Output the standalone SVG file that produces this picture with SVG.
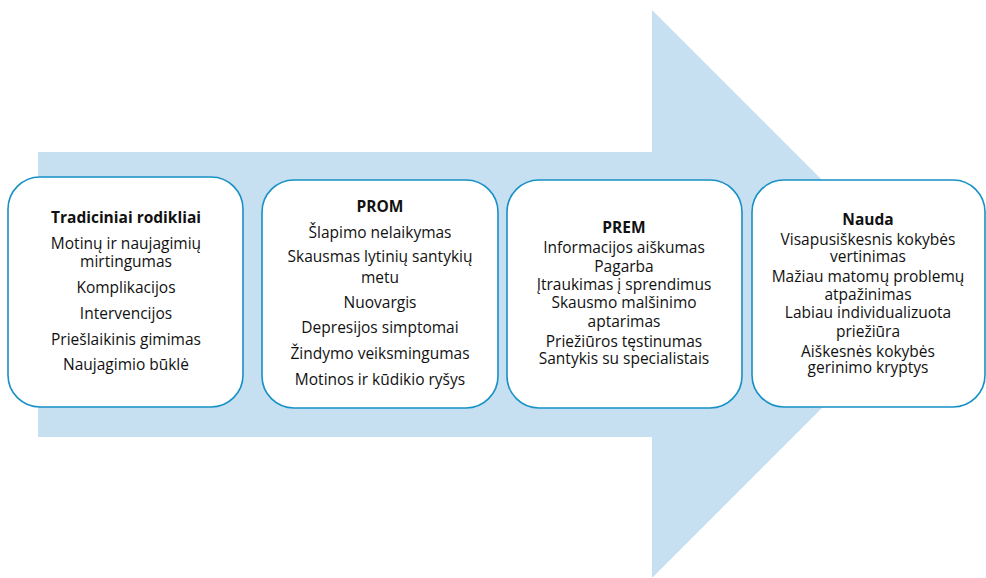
<svg xmlns="http://www.w3.org/2000/svg" width="986" height="578" viewBox="0 0 986 578">
<style>
.box{fill:#fff;stroke:#1790c6;stroke-width:1.6}
text{font-family:"Open Sans","Liberation Sans",Arial,sans-serif;font-size:15.5px;fill:#111;text-anchor:middle}
.t{font-weight:bold}
</style>
<rect width="986" height="578" fill="#fff"/>
<g id="arrow">
<polygon points="38,152 652,152 652,10 936,294 652,578 652,437 38,437" fill="#c6e0f1"/>
</g>
<g id="connectors"></g>
<g id="node1">
<rect class="box" x="8" y="177" width="235" height="230" rx="32"/>
<text x="126" y="223" class="t">Tradiciniai rodikliai</text>
<text x="126" y="249">Motinų ir naujagimių</text>
<text x="126" y="267">mirtingumas</text>
<text x="126" y="293">Komplikacijos</text>
<text x="126" y="319">Intervencijos</text>
<text x="126" y="345">Priešlaikinis gimimas</text>
<text x="126" y="370">Naujagimio būklė</text>
</g>
<g id="node2">
<rect class="box" x="262" y="180" width="236" height="228" rx="32"/>
<text x="380" y="212" class="t">PROM</text>
<text x="380" y="238">Šlapimo nelaikymas</text>
<text x="380" y="262">Skausmas lytinių santykių</text>
<text x="380" y="283">metu</text>
<text x="380" y="308">Nuovargis</text>
<text x="380" y="333">Depresijos simptomai</text>
<text x="380" y="359">Žindymo veiksmingumas</text>
<text x="380" y="385">Motinos ir kūdikio ryšys</text>
</g>
<g id="node3">
<rect class="box" x="507" y="180" width="235" height="228" rx="32"/>
<text x="624" y="233" class="t">PREM</text>
<text x="624" y="253">Informacijos aiškumas</text>
<text x="624" y="272">Pagarba</text>
<text x="624" y="290">Įtraukimas į sprendimus</text>
<text x="624" y="308">Skausmo malšinimo</text>
<text x="624" y="327">aptarimas</text>
<text x="624" y="347">Priežiūros tęstinumas</text>
<text x="624" y="364">Santykis su specialistais</text>
</g>
<g id="node4">
<rect class="box" x="752" y="180" width="233" height="227" rx="32"/>
<text x="868" y="225" class="t">Nauda</text>
<text x="868" y="245">Visapusiškesnis kokybės</text>
<text x="868" y="262">vertinimas</text>
<text x="868" y="282">Mažiau matomų problemų</text>
<text x="868" y="300">atpažinimas</text>
<text x="868" y="318">Labiau individualizuota</text>
<text x="868" y="337">priežiūra</text>
<text x="868" y="357">Aiškesnės kokybės</text>
<text x="868" y="373">gerinimo kryptys</text>
</g>
</svg>
